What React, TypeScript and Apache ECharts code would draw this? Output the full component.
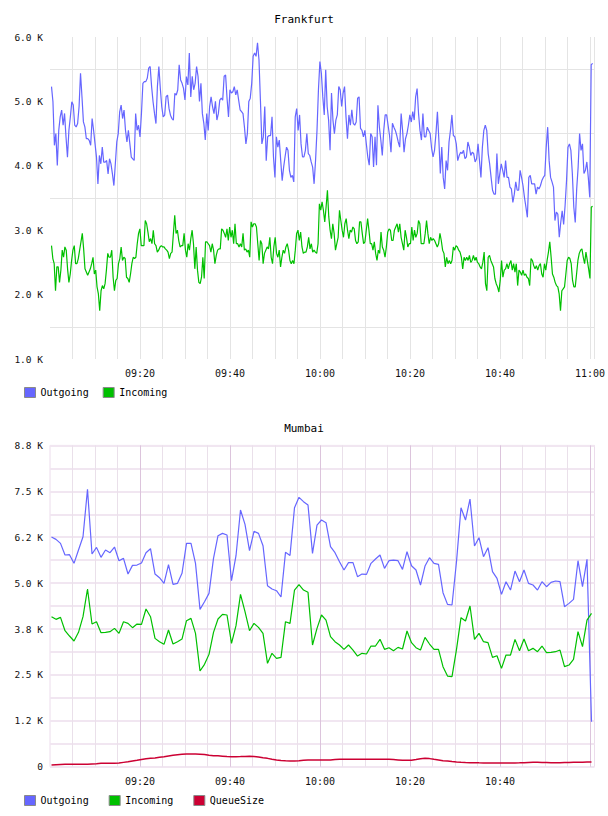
import React, { useEffect, useRef } from 'react';
import * as echarts from 'echarts';

const MIN = 60 * 1000;
const DAY = Date.UTC(2024, 0, 15);
const at = (h: number, m: number, s = 0) => DAY + ((h * 60 + m) * 60 + s) * 1000;

// ---- Frankfurt (samples evenly spaced between start and end) ----
const frankfurtStart = at(9, 0, 20);
const frankfurtEnd = at(11, 0, 36);

const frankfurtOutgoing = [
  5230, 4995, 4318, 4500, 4005, 4552, 4760, 4865, 4630, 4813, 4448, 4135, 4552, 4760, 4995, 4943, 4630, 4604, 4656, 4917,
  5438, 5073, 4682, 4604, 4422, 4422, 4396, 4318, 4734, 4552, 4344, 4135, 3719, 4161, 4031, 4292, 4057, 4057, 4083, 3875,
  4109, 4031, 3875, 3693, 4031, 4370, 4500, 4839, 4943, 4734, 4865, 4552, 4370, 4552, 4344, 4135, 4109, 4083, 4813, 4552,
  4630, 4448, 4813, 5281, 5307, 5307, 5360, 5516, 5542, 5230, 4995, 4813, 4656, 5230, 5542, 5203, 4917, 4760, 4786, 5073,
  5099, 4891, 4786, 4734, 4708, 5125, 5099, 5177, 5568, 5334, 5281, 5203, 5021, 5386, 5255, 5750,
  5070, 5390, 5180, 5280, 5540, 5390, 5000, 5280, 4810, 4660, 4400, 4810, 4550, 4920, 5070, 4920, 4810, 5000, 4710, 4810,
  5020, 5050, 5020, 5390, 5410, 5050, 4760, 5180, 5130, 5150, 5230, 5100, 5180, 5020, 4870, 4840, 4810, 4600, 4340, 4500,
  5000, 5050, 5280, 5700, 5750, 5700, 5910, 5650, 5020, 4340, 4450, 4920, 4080, 4450, 4470, 4470, 4760, 4140, 3820, 4450,
  4290, 4400, 4080, 3770, 3980, 4140, 4290, 4240, 3930, 3820, 3850, 3750, 4760, 4890, 4550, 4790, 4340, 4140, 4140, 4240,
  4500, 4190, 4160, 4060, 3980, 3720, 4080, 4550,
  5180, 5620, 5440, 5070, 4790, 5490, 4920, 4710, 4240, 5130, 4710, 4500, 4710, 4790, 5230, 5180, 4920, 5130, 5230, 4760,
  4420, 4790, 4630, 4870, 4660, 4630, 4680, 5050, 5070, 4580, 4550, 4450, 4550, 4340, 4140, 4010, 4500, 4450, 3980, 4450,
  4010, 4940, 4600, 4400, 4160, 4550, 4790, 4790, 4630, 4470, 4210, 4660, 4600, 4550, 4470, 4370, 4290, 4810, 4550, 4210,
  4420, 4500, 4630, 4790, 4680, 4840, 4710, 5070, 5200, 4810, 4550, 4400, 4810, 4450, 4450, 4600, 4550, 4500, 4270, 4140,
  4240, 4500, 4840, 4400, 3880, 4290, 3820, 3640,
  4080, 3930, 4370, 4550, 4790, 4470, 4450, 4340, 4080, 4160, 4210, 4190, 4240, 4110, 4140, 4370, 4290, 4160, 4210, 4190,
  4060, 4110, 4340, 4080, 3820, 4290, 4550, 4630, 4550, 4190, 4030, 3820, 3620, 3560, 3560, 4190, 3720, 3880, 4030, 3930,
  3820, 4080, 3820, 3820, 3670, 3640, 3430, 3560, 3750, 3620, 3620, 3930, 3820, 3690, 3510, 3360, 3200, 3820, 3850, 3720,
  3720, 3720, 3560, 3670, 3640, 3690, 3770, 3820, 3850, 4290, 4600, 4080, 3820, 3750, 3670, 3150, 3280, 3250, 2890, 3120,
  3300, 3090, 3380, 3770, 4290, 4340, 4240, 3880, 3360, 3120, 3640, 3980, 4500, 4240, 4340, 3880, 3930, 4060, 3820, 3510,
  5570, 5590,
];

const frankfurtIncoming = [
  2760, 2560, 2480, 2060, 2430, 2430, 2190, 2380, 2690, 2580, 2740, 2690, 2400, 2190, 2320, 2530, 2690, 2760, 2480, 2480,
  2560, 2690, 2820, 2950, 2710, 2400, 2350, 2300, 2350, 2400, 2480, 2580, 2320, 2380, 2120, 2010, 1750, 2060, 2140, 2090,
  2170, 2380, 2640, 2580, 2580, 2690, 2270, 2060, 2220, 2250, 2480, 2560, 2740, 2530, 2580, 2560, 2270, 2250, 2190, 2320,
  2480, 2580, 2560, 2580, 2790, 2950, 3020, 2760, 2760, 2760, 3150, 3100, 2970, 2820, 2870, 2790, 3000, 2790, 2760, 2660,
  2690, 2740, 2760, 2740, 2740, 2710, 2690, 2660, 2560, 2640, 2660, 2950, 3230, 2950, 3000, 2840, 2740, 2760, 2760, 2950,
  2690, 2580, 2790, 2690, 2870, 3000, 2790, 2400, 2740, 2380, 2190, 2170, 2270, 2580, 2250, 2820, 2820, 2790, 2760, 2660,
  2790, 2690, 2480, 2610, 2690, 2710, 2710, 3020, 3000, 2950, 2890, 3020, 2840, 3050, 2890, 3000, 2790, 3100, 2790, 2790,
  2740, 2790, 2740, 2950, 2690, 2710, 2660, 2690, 2580, 3130, 3050, 3100, 3100, 3050, 2790, 2530, 2840, 2790, 2480, 2640,
  2690, 2740, 2710, 2890, 2580, 2480, 2740, 2890, 2640, 2580, 2690, 2430, 2580, 2690, 2640, 2740, 2790, 2690, 2530, 2480,
  2530, 2480, 2690, 2950, 3000, 2840, 2970, 2740, 2640, 2660, 2660, 2740, 2890, 2710, 2790, 2660, 2690, 2660, 2640, 2790,
  3410, 3310, 3440, 3310, 3130, 3360, 3620, 3210, 3000, 2870, 3100, 2950, 2690, 2790, 2890, 3310, 3150, 3000, 2890, 3100,
  3180, 3000, 2870, 3000, 2970, 3050, 3020, 2840, 2790, 2820, 3130, 3130, 2950, 2790, 2820, 3000, 3180, 3000, 2790, 2790,
  2690, 2820, 2640, 2530, 2690, 2640, 2970, 2740, 2690, 2580, 2740, 2970, 3020, 3000, 2840, 2840, 3000, 3050, 3100, 2970,
  3100, 2890, 2790, 2690, 3000, 2890, 2740, 2790, 2790, 3050, 2840, 3000, 2890, 2950, 3150, 3100, 2790, 2790, 2790, 2950,
  3150, 2950, 2790, 2890, 2840, 2870, 2840, 2790, 2740, 2790, 2950, 2840, 2690, 2640, 2430, 2580, 2480, 2530,
  2480, 2530, 2740, 2690, 2760, 2740, 2690, 2660, 2580, 2400, 2580, 2530, 2580, 2530, 2610, 2500, 2530, 2610, 2530, 2580,
  2500, 2480, 2430, 2400, 2500, 2660, 2170, 2060, 2580, 2610, 2530, 2480, 2430, 2250, 2170, 2120, 2040, 2220, 2530, 2270,
  2380, 2400, 2480, 2400, 2480, 2530, 2380, 2480, 2350, 2480, 2140, 2380, 2350, 2300, 2380, 2300, 2320, 2270, 2250, 2140,
  2560, 2530, 2450, 2400, 2450, 2380, 2450, 2480, 2320, 2270, 2480, 2380, 2530, 2660, 2820, 2580, 2320, 2270, 2190, 2140,
  2120, 2010, 1750, 2060, 2090, 2120, 2320, 2530, 2580, 2560, 2480, 2220, 2120, 2120, 2320, 2530, 2640, 2690, 2710, 2580,
  2480, 2660, 2530, 2400, 2250, 3360, 3370,
];

// ---- Mumbai (one sample per minute) ----
const mumbaiStart = at(9, 0, 20);

const mumbaiOutgoing = [
  6255, 6191, 6082, 5765, 5774, 5538, 5900, 6264, 7553, 5792, 5973, 5701, 5900, 5828, 5982, 5610, 5674, 5247, 5483, 5492,
  5547, 5828, 5937, 5247, 5147, 4993, 5501, 4966, 4993, 5265, 6082, 6082, 5538, 4285, 4494, 4721, 5674, 6291, 6355, 6309,
  5066, 5746, 6990, 6600, 5882, 6409, 6355, 6019, 4929, 4839, 4793, 4621, 5837, 5755, 7053, 7335, 7217, 7126, 5810, 6581,
  6718, 6645, 5991, 5828, 5583, 5356, 5556, 5556, 5175, 5247, 5238, 5538, 5656, 5765, 5401, 5610, 5628, 5610, 5374, 5855,
  5474, 5356, 4948, 5465, 5692, 5538, 5510, 4739, 4421, 4403, 5583, 7053, 6718, 7289, 6010, 6237, 5719, 5964, 5311, 5129,
  4693, 5038, 4811, 5329, 5038, 5356, 4993, 4948, 4811, 5038, 4902, 5020, 5057, 5038, 4358, 4448, 4557, 5610, 4902, 5647,
  1225,
];

const mumbaiIncoming = [
  4085, 4013, 4067, 3704, 3559, 3423, 3659, 4085, 4839, 3885, 3949, 3649, 3659, 3677, 3767, 3631, 3949, 3904, 3786, 3885,
  3876, 4294, 4085, 3495, 3404, 3332, 3722, 3341, 3404, 3477, 3976, 4040, 3631, 2606, 2787, 3059, 3659, 4022, 4149, 4131,
  3359, 3840, 4694, 4221, 3704, 3904, 3795, 3631, 2814, 3087, 2951, 2978, 3949, 3904, 4811, 4957, 4811, 4750, 3314, 3767,
  4131, 3994, 3541, 3404, 3314, 3196, 3314, 3177, 3014, 3087, 3069, 3286, 3286, 3468, 3196, 3241, 3159, 3250, 3205, 3695,
  3377, 3241, 3177, 3522, 3341, 3196, 3196, 2724, 2469, 2451, 3196, 4058, 3967, 4376, 3468, 3631, 3404, 3377, 2978, 3023,
  2678, 3041, 3041, 3468, 3159, 3477, 3159, 3223, 3132, 3286, 3105, 3114, 3132, 3177, 2724, 2769, 2923, 3677, 3268, 3994,
  4176,
];

const mumbaiQueueSize = [
  46, 55, 60, 64, 64, 64, 64, 64, 68, 75, 82, 91, 91, 91, 91, 100, 118, 136, 155, 173,
  195, 215, 230, 240, 255, 270, 290, 310, 325, 336, 345, 345, 345, 340, 330, 310, 300, 295, 285, 275,
  272, 272, 275, 280, 282, 281, 265, 245, 227, 205, 185, 170, 160, 155, 155, 160, 175, 182, 182, 182,
  180, 180, 185, 195, 200, 200, 200, 200, 200, 200, 200, 200, 200, 200, 200, 200, 195, 185, 175, 173,
  178, 195, 215, 227, 220, 200, 185, 165, 155, 140, 128, 118, 112, 109, 109, 105, 103, 100, 100, 100,
  100, 100, 100, 103, 105, 110, 115, 118, 118, 115, 112, 109, 109, 109, 112, 115, 118, 120, 122, 125,
  127,
];

// ---- tick labels ----
const frankfurtYLabels = ['1.0 K', '2.0 K', '3.0 K', '4.0 K', '5.0 K', '6.0 K'];
const mumbaiYLabels = ['0', '1.2 K', '2.5 K', '3.8 K', '5.0 K', '6.2 K', '7.5 K', '8.8 K'];
const frankfurtXLabels = ['09:20', '09:40', '10:00', '10:20', '10:40', '11:00'];
const mumbaiXLabels = ['09:20', '09:40', '10:00', '10:20', '10:40'];

const X_MIN = at(9, 0, 0);
const X_MAX = at(11, 1, 0);

const COLORS = { out: '#6666ff', inc: '#00c000', queue: '#cc0033' };
const FONT = '"DejaVu Sans Mono", monospace';

const spread = (vals: number[], start: number, end: number) =>
  vals.map((v, i) => [start + ((end - start) * i) / (vals.length - 1), v]);
const perMinute = (vals: number[], start: number) => vals.map((v, i) => [start + i * MIN, v]);

const hhmm = (v: number) => new Date(v).toISOString().slice(11, 16);

export default function App() {
  const ref = useRef<HTMLDivElement>(null);

  useEffect(() => {
    if (!ref.current) return;
    const chart = echarts.init(ref.current, undefined, { renderer: 'svg' });

    const lineSeries = (name: string, color: string, data: number[][], axis: number, width = 1.2) => ({
      name,
      type: 'line',
      xAxisIndex: axis === 0 ? 0 : 1,
      yAxisIndex: axis,
      data,
      showSymbol: false,
      symbol: 'none',
      color,
      itemStyle: { color },
      lineStyle: { color, width },
      emphasis: { disabled: true },
    });

    const legendBase = {
      icon: 'rect',
      itemWidth: 11,
      itemHeight: 10,
      padding: 0,
      left: 24,
      textStyle: { fontSize: 10, color: '#000', fontFamily: FONT },
      itemStyle: { borderColor: '#8a8a8a', borderWidth: 1 },
      selectedMode: false,
    };

    const xLabel = (labels: string[], margin: number) => ({
      margin,
      fontSize: 10,
      color: '#111',
      fontFamily: FONT,
      formatter: (v: number) => {
        const s = hhmm(v);
        return labels.includes(s) ? s : '';
      },
    });

    const option = {
      animation: false,
      backgroundColor: '#ffffff',
      textStyle: { fontFamily: FONT },
      title: [
        {
          text: 'Frankfurt',
          left: 'center',
          top: 14,
          padding: 0,
          textStyle: { fontSize: 11, fontWeight: 'normal', color: '#000', fontFamily: FONT },
        },
        {
          text: 'Mumbai',
          left: 'center',
          top: 423,
          padding: 0,
          textStyle: { fontSize: 11, fontWeight: 'normal', color: '#000', fontFamily: FONT },
        },
      ],
      legend: [
        { ...legendBase, top: 387, itemGap: 14, data: ['Outgoing', 'Incoming'] },
        { ...legendBase, top: 795, itemGap: 20, data: ['Outgoing', 'Incoming', 'QueueSize'] },
      ],
      grid: [
        { left: 50, top: 37, width: 544.5, height: 322 },
        {
          left: 50,
          top: 445.4,
          width: 544.5,
          height: 321.3,
          show: true,
          borderColor: '#ecdcec',
          borderWidth: 1,
        },
      ],
      xAxis: [
        {
          type: 'value',
          gridIndex: 0,
          min: X_MIN,
          max: X_MAX,
          interval: 5 * MIN,
          axisLine: { show: false },
          axisTick: { show: false },
          axisLabel: xLabel(frankfurtXLabels, 9),
          splitLine: { show: true, showMinLine: false, lineStyle: { color: '#e4e4e4', width: 1 } },
        },
        {
          type: 'value',
          gridIndex: 1,
          min: X_MIN,
          max: X_MAX,
          interval: 5 * MIN,
          axisLine: { show: false },
          axisTick: { show: false },
          axisLabel: xLabel(mumbaiXLabels, 10),
          splitLine: { show: true, showMinLine: false, showMaxLine: false, lineStyle: { color: '#eae0ea', width: 1 } },
        },
        {
          type: 'value',
          gridIndex: 1,
          min: X_MIN,
          max: X_MAX,
          interval: 20 * MIN,
          axisLine: { show: false },
          axisTick: { show: false },
          axisLabel: { show: false },
          splitLine: { show: true, showMinLine: false, showMaxLine: false, lineStyle: { color: '#dcc4dc', width: 1 } },
        },
      ],
      yAxis: [
        {
          type: 'value',
          gridIndex: 0,
          min: 1000,
          max: 6000,
          interval: 1000,
          axisLine: { show: false },
          axisTick: { show: false },
          splitLine: { show: false },
          minorTick: { show: false, splitNumber: 2 },
          minorSplitLine: { show: true, lineStyle: { color: '#e4e4e4', width: 1 } },
          axisLabel: {
            margin: 7,
            fontSize: 9.5,
            color: '#111',
            fontFamily: FONT,
            formatter: (v: number) => frankfurtYLabels[Math.round((v - 1000) / 1000)] ?? '',
          },
        },
        {
          type: 'value',
          gridIndex: 1,
          min: 0,
          max: 8750,
          interval: 1250,
          axisLine: { show: false },
          axisTick: { show: false },
          splitLine: { show: true, lineStyle: { color: '#f1e6f1', width: 2 } },
          minorTick: { show: false, splitNumber: 2 },
          minorSplitLine: { show: true, lineStyle: { color: '#f1e6f1', width: 2 } },
          axisLabel: {
            margin: 7,
            fontSize: 9.5,
            color: '#111',
            fontFamily: FONT,
            formatter: (v: number) => mumbaiYLabels[Math.round(v / 1250)] ?? '',
          },
        },
      ],
      series: [
        lineSeries('Outgoing', COLORS.out, spread(frankfurtOutgoing, frankfurtStart, frankfurtEnd), 0),
        lineSeries('Incoming', COLORS.inc, spread(frankfurtIncoming, frankfurtStart, frankfurtEnd), 0),
        lineSeries('Outgoing', COLORS.out, perMinute(mumbaiOutgoing, mumbaiStart), 1),
        lineSeries('Incoming', COLORS.inc, perMinute(mumbaiIncoming, mumbaiStart), 1),
        lineSeries('QueueSize', COLORS.queue, perMinute(mumbaiQueueSize, mumbaiStart), 1, 1.5),
      ],
    };

    chart.setOption(option as any);
    return () => chart.dispose();
  }, []);

  return (
    <div
      ref={ref}
      style={{ position: 'absolute', left: 0, top: 0, width: 608, height: 816, background: '#fff' }}
    />
  );
}
